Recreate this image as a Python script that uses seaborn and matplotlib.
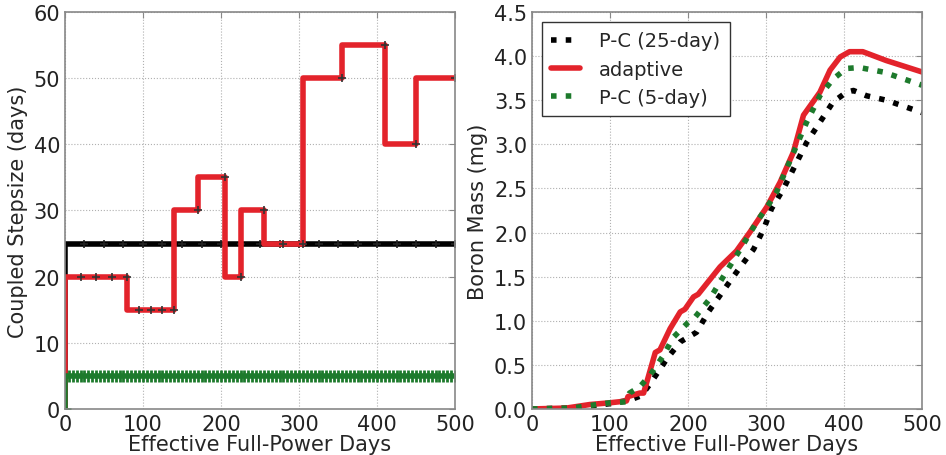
import seaborn as sns
import numpy as np
import pandas as pd
import matplotlib
matplotlib.use("Agg")
import matplotlib.pyplot as plt

# --- left panel: coupled step sizes (time at end of step, step size) ---
pc25_days = [0] + list(range(25, 501, 25))
pc25_step = [0] + [25] * 20
pc5_days = [0] + list(range(5, 501, 5))
pc5_step = [0] + [5] * 100
adapt_days = [0, 20, 40, 60, 80, 95, 110, 125, 140, 170, 205, 225, 255, 280, 305, 355, 410, 450, 500]
adapt_step = [0, 20, 20, 20, 20, 15, 15, 15, 15, 30, 35, 20, 30, 25, 25, 50, 55, 40, 50]

# --- right panel: boron mass (mg) ---
adapt_x = [0, 44, 74, 100, 121, 123, 138, 143, 147, 158, 164, 177, 190, 196, 207, 213, 241,
           262, 279, 301, 318, 335, 348, 369, 382, 395, 407, 424, 454, 500]
adapt_b = [0.0, 0.01, 0.05, 0.07, 0.09, 0.14, 0.18, 0.18, 0.30, 0.64, 0.67, 0.91, 1.10, 1.13,
           1.27, 1.30, 1.61, 1.79, 2.00, 2.29, 2.57, 2.91, 3.33, 3.59, 3.84, 3.99, 4.05, 4.05,
           3.95, 3.82]
pc5_x = [0, 50, 100, 120, 125, 138, 151, 168, 181, 200, 209, 228, 241, 267, 288, 305, 313,
         330, 352, 369, 386, 403, 420, 450, 500]
pc5_b = [0.0, 0.01, 0.07, 0.08, 0.18, 0.25, 0.38, 0.60, 0.81, 0.98, 1.04, 1.25, 1.44, 1.81,
         2.12, 2.34, 2.45, 2.80, 3.25, 3.55, 3.74, 3.86, 3.87, 3.82, 3.67]
pc25_x = [0, 50, 100, 125, 140, 151, 173, 190, 211, 226, 250, 267, 284, 297, 307, 322, 352,
          369, 386, 403, 412, 429, 454, 500]
pc25_b = [0.0, 0.01, 0.06, 0.10, 0.15, 0.28, 0.57, 0.76, 0.87, 1.10, 1.40, 1.61, 1.81, 2.04,
          2.27, 2.49, 3.02, 3.25, 3.48, 3.59, 3.61, 3.55, 3.50, 3.36]

RED = "#e3232b"
GREEN = "#1d7a2c"

sns.set_style("whitegrid", {"grid.linestyle": ":", "grid.color": "#b0b0b0",
                            "axes.edgecolor": "#888888"})
plt.rcParams["font.family"] = ["DejaVu Sans"]
plt.rcParams["font.size"] = 14
plt.rcParams["xtick.direction"] = "in"
plt.rcParams["ytick.direction"] = "in"

fig = plt.figure(figsize=(9.46, 4.56), dpi=100)
ax1 = fig.add_axes([0.0687, 0.101, 0.4123, 0.8705])
ax2 = fig.add_axes([0.5624, 0.101, 0.4123, 0.8705])

df25 = pd.DataFrame({"days": pc25_days, "step": pc25_step})
dfa = pd.DataFrame({"days": adapt_days, "step": adapt_step})
df5 = pd.DataFrame({"days": pc5_days, "step": pc5_step})

sns.lineplot(data=df25, x="days", y="step", ax=ax1, color="k", lw=4,
             drawstyle="steps-pre", marker="+", markersize=6, markeredgewidth=1.2,
             markeredgecolor="#222222", estimator=None, sort=False)
sns.lineplot(data=dfa, x="days", y="step", ax=ax1, color=RED, lw=4,
             drawstyle="steps-pre", marker="+", markersize=6, markeredgewidth=1.2,
             markeredgecolor="#333333", estimator=None, sort=False)
sns.lineplot(data=df5, x="days", y="step", ax=ax1, color=GREEN, lw=4,
             drawstyle="steps-pre", marker="+", markersize=9, markeredgewidth=2,
             markeredgecolor=GREEN, estimator=None, sort=False)

ax1.set_xlim(0, 500)
ax1.set_ylim(0, 60)
ax1.set_xlabel("Effective Full-Power Days", labelpad=0, fontsize=15)
ax1.set_ylabel("Coupled Stepsize (days)", fontsize=15)

sns.lineplot(x=pc25_x, y=pc25_b, ax=ax2, color="k", lw=4, linestyle=":",
             label="P-C (25-day)", estimator=None, sort=False)
sns.lineplot(x=adapt_x, y=adapt_b, ax=ax2, color=RED, lw=4, linestyle="-",
             label="adaptive", estimator=None, sort=False)
sns.lineplot(x=pc5_x, y=pc5_b, ax=ax2, color=GREEN, lw=4, linestyle=":",
             label="P-C (5-day)", estimator=None, sort=False)

ax2.set_xlim(0, 500)
ax2.set_ylim(0, 4.5)
ax2.set_yticks(np.arange(0, 4.51, 0.5))
ax2.set_xlabel("Effective Full-Power Days", labelpad=0, fontsize=15)
ax2.set_ylabel("Boron Mass (mg)", fontsize=15)
leg = ax2.legend(loc="upper left", fontsize=14, fancybox=False, framealpha=1,
                 handlelength=1.45, handletextpad=1.0, borderpad=0.5,
                 labelspacing=0.47)
leg.get_frame().set_edgecolor("#333333")

for ax in (ax1, ax2):
    ax.tick_params(axis="both", colors="#888888", labelcolor="#222222", length=4,
                   labelsize=15, top=True, right=True)
    ax.set_xticks(np.arange(0, 501, 100))
    for s in ax.spines.values():
        s.set_linewidth(1.2)

fig.savefig("out.png", dpi=100)
